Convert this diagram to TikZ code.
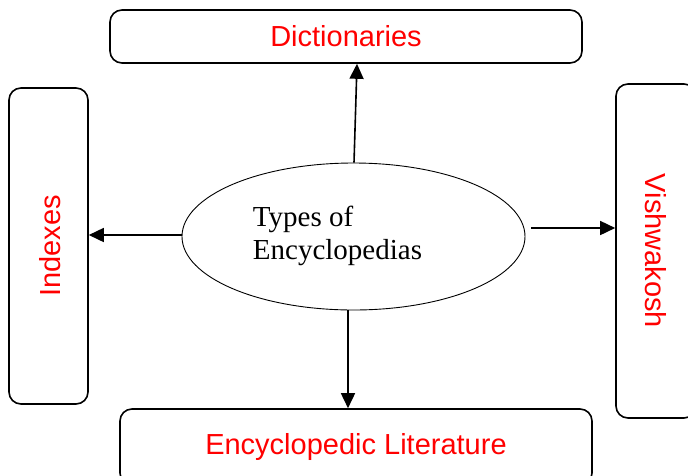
\documentclass[tikz,border=0pt]{standalone}
\usepackage{fontspec}
\setmainfont{Liberation Serif}
\setsansfont{Liberation Sans}
\usetikzlibrary{arrows.meta,shapes.geometric}
\tikzset{
  kind/.style={draw, line width=1.6pt, rounded corners=12pt, text=red,
    font=\sffamily\fontsize{29}{34}\selectfont, inner sep=0pt},
  arr/.style={line width=1.6pt, -{Triangle[length=15pt,width=14pt]}}
}
\begin{document}
\begin{tikzpicture}[x=1pt, y=-1pt]
  \useasboundingbox (0,0) rectangle (688,475);

  \node[draw, ellipse, line width=0.9pt, minimum width=343pt, minimum height=147pt] (ell) at (353.5,236.5) {};
  \node[align=left, font=\fontsize{29}{33}\selectfont] (elltext) at (337.5,236) {Types of\\Encyclopedias};

  \node[kind, minimum width=472pt, minimum height=53pt] (dict) at (346,36.5) {Dictionaries};
  \node[kind, minimum width=79pt, minimum height=316pt] (idx) at (48.5,246) {};
  \node[rotate=90, text=red, font=\sffamily\fontsize{29}{34}\selectfont] (idxt) at (50,246) {Indexes};
  \node[kind, minimum width=80pt, minimum height=334pt] (vish) at (656,251) {};
  \node[rotate=-90, text=red, font=\sffamily\fontsize{29}{34}\selectfont] (visht) at (vish) {Vishwakosh};
  \node[kind, minimum width=472pt, minimum height=76pt] (lit) at (356,447) {Encyclopedic Literature};

  \draw[arr] ([xshift=0.5pt]ell.north) -- ([xshift=11pt]dict.south);
  \draw[arr] ([yshift=1.5pt]ell.west) -- ([yshift=11pt]idx.east);
  \draw[arr] ([xshift=6pt,yshift=8.5pt]ell.east) -- ([yshift=23pt]vish.west);
  \draw[arr] ([xshift=-5.5pt]ell.south) -- ([xshift=-8pt]lit.north);
\end{tikzpicture}
\end{document}
